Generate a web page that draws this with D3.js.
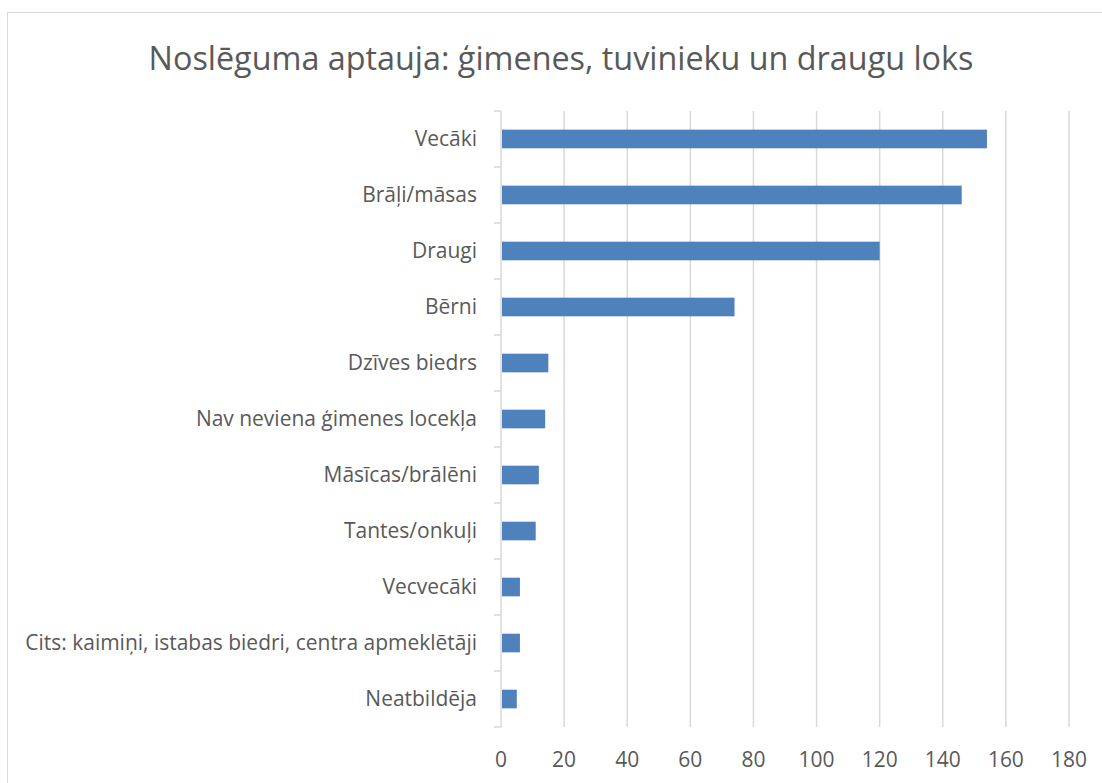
<!DOCTYPE html>
<html>
<head>
<meta charset="utf-8">
<script src="https://cdn.jsdelivr.net/npm/d3@7.9.0/dist/d3.min.js"></script>
<style>
  html, body { margin: 0; padding: 0; background: #fff; }
  svg { display: block; font-family: "Open Sans", "Noto Sans", sans-serif; }
</style>
</head>
<body>
<svg id="chart" width="1102" height="783"></svg>
<script>
const TITLE = 'Noslēguma aptauja: ģimenes, tuvinieku un draugu loks';

const categories = [
  'Vecāki',
  'Brāļi/māsas',
  'Draugi',
  'Bērni',
  'Dzīves biedrs',
  'Nav neviena ģimenes locekļa',
  'Māsīcas/brālēni',
  'Tantes/onkuļi',
  'Vecvecāki',
  'Cits: kaimiņi, istabas biedri, centra apmeklētāji',
  'Neatbildēja',
];
const values = [154, 146, 120, 74, 15, 14, 12, 11, 6, 6, 5];
const xTicks = [0, 20, 40, 60, 80, 100, 120, 140, 160, 180];

const TEXT = '#595959';
const GRID = '#d9d9d9';
const BAR = '#4f81bd';

const svg = d3.select('#chart');
const plot = { left: 501, right: 1069, top: 111, bottom: 727 };

// chart frame (only left and top edges fall inside the picture)
svg.append('rect')
  .attr('x', 7.5).attr('y', 12.5)
  .attr('width', 1110).attr('height', 800)
  .attr('fill', 'none').attr('stroke', GRID).attr('stroke-width', 1);

const x = d3.scaleLinear().domain([0, 180]).range([plot.left, plot.right]);
const y = d3.scaleBand().domain(categories).range([plot.top, plot.bottom]).paddingInner(0.667).paddingOuter(0.333);
const yTicks = d3.scaleBand().domain(categories).range([plot.top, plot.bottom]);

// vertical gridlines
svg.append('g')
  .selectAll('line')
  .data(xTicks.slice(1))
  .join('line')
  .attr('x1', (d) => x(d)).attr('x2', (d) => x(d))
  .attr('y1', plot.top).attr('y2', plot.bottom)
  .attr('stroke', GRID).attr('stroke-width', 1.5);

// bars
svg.append('g')
  .selectAll('rect')
  .data(categories)
  .join('rect')
  .attr('x', x(0) + 1)
  .attr('y', (d) => y(d))
  .attr('width', (d, i) => x(values[i]) - x(0) - 1)
  .attr('height', y.bandwidth())
  .attr('fill', BAR);

// category axis line + outside ticks
svg.append('line')
  .attr('x1', x(0)).attr('x2', x(0))
  .attr('y1', plot.top).attr('y2', plot.bottom)
  .attr('stroke', GRID).attr('stroke-width', 1.5);

const boundaries = categories.map((c) => yTicks(c)).concat([plot.bottom]);
svg.append('g')
  .selectAll('line')
  .data(boundaries)
  .join('line')
  .attr('x1', x(0) - 7).attr('x2', x(0))
  .attr('y1', (d) => d).attr('y2', (d) => d)
  .attr('stroke', GRID).attr('stroke-width', 1.5);

// category labels
const labels = svg.append('g')
  .selectAll('text')
  .data(categories)
  .join('text')
  .attr('x', 477)
  .attr('y', (d) => y(d) + y.bandwidth() / 2)
  .attr('dy', '0.35em')
  .attr('text-anchor', 'end')
  .attr('fill', TEXT)
  .attr('font-size', 17)
  .text((d) => d);

// fit label size so the longest one spans the same width as in the reference
const longest = labels.filter((d) => d.startsWith('Cits')).node();
const labelSize = 17 * 452 / longest.getComputedTextLength();
labels.attr('font-size', labelSize);

// value axis labels
svg.append('g')
  .selectAll('text')
  .data(xTicks)
  .join('text')
  .attr('x', (d) => x(d))
  .attr('y', 767)
  .attr('text-anchor', 'middle')
  .attr('fill', TEXT)
  .attr('font-size', labelSize)
  .text((d) => d);

// title
const title = svg.append('text')
  .attr('x', 561)
  .attr('y', 70)
  .attr('text-anchor', 'middle')
  .attr('fill', TEXT)
  .attr('font-size', 30)
  .text(TITLE);
title.attr('font-size', 30 * 825 / title.node().getComputedTextLength());
</script>
</body>
</html>
